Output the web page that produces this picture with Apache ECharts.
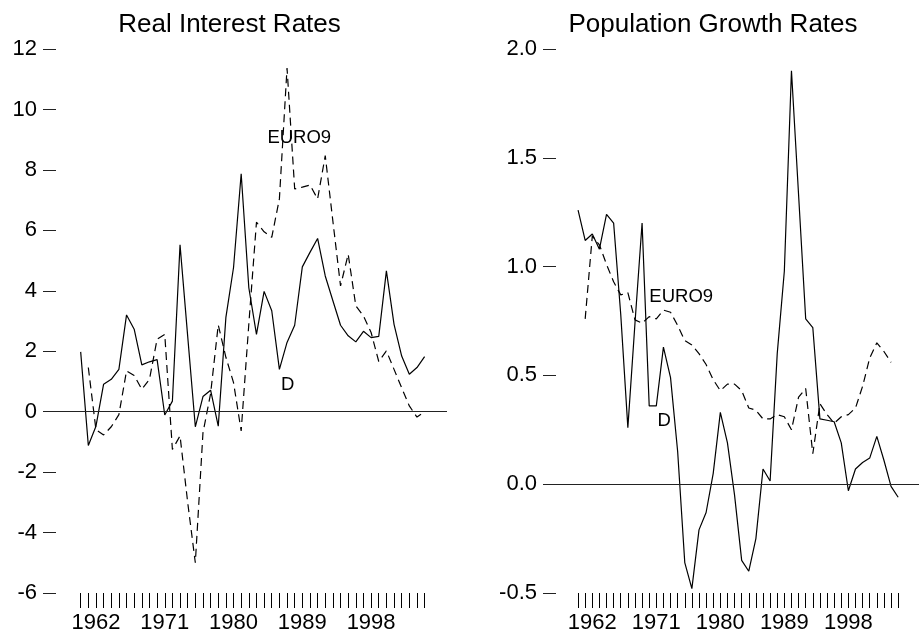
<!DOCTYPE html>
<html>
<head>
<meta charset="utf-8">
<script src="https://cdn.jsdelivr.net/npm/echarts@6/dist/echarts.min.js"></script>
<style>
  html, body { margin: 0; padding: 0; background: #fff; }
  #chart { width: 919px; height: 636px; }
</style>
</head>
<body>
<div id="chart"></div>
<script>
  var years = [1960, 1961, 1962, 1963, 1964, 1965, 1966, 1967, 1968, 1969,
    1970, 1971, 1972, 1973, 1974, 1975, 1976, 1977, 1978, 1979,
    1980, 1981, 1982, 1983, 1984, 1985, 1986, 1987, 1988, 1989,
    1990, 1991, 1992, 1993, 1994, 1995, 1996, 1997, 1998, 1999,
    2000, 2001, 2002, 2003, 2004, 2005];
  var yearLabels = [1962, 1971, 1980, 1989, 1998];

  // Real interest rates, 1960-2005 (null = no value)
  var rateD = [1.98, -1.12, -0.48, 0.91, 1.07, 1.40, 3.20, 2.73, 1.55, 1.65,
    1.72, -0.11, 0.35, 5.52, 2.50, -0.50, 0.50, 0.71, -0.48, 3.12,
    4.77, 7.87, 4.10, 2.56, 3.98, 3.34, 1.40, 2.29, 2.86, 4.79,
    5.27, 5.73, 4.49, 3.67, 2.86, 2.51, 2.31, 2.66, 2.45, 2.49,
    4.66, 2.89, 1.84, 1.24, 1.46, 1.82];
  var rateEuro = [null, 1.46, -0.60, -0.77, -0.50, -0.10, 1.35, 1.20, 0.74, 1.07,
    2.40, 2.56, -1.25, -0.80, -3.00, -5.00, -0.70, 0.60, 2.87, 1.80,
    0.96, -0.64, 2.90, 6.27, 5.95, 5.77, 7.04, 11.37, 7.37, 7.43,
    7.50, 7.04, 8.47, 6.30, 4.16, 5.21, 3.50, 3.17, 2.62, 1.66,
    2.01, 1.40, 0.79, 0.19, -0.18, 0.00];

  // Population growth rates, 1960-2005
  var popD = [1.26, 1.12, 1.15, 1.08, 1.24, 1.20, 0.78, 0.26, 0.74, 1.20,
    0.36, 0.36, 0.63, 0.49, 0.15, -0.36, -0.48, -0.21, -0.13, 0.05,
    0.33, 0.19, -0.05, -0.35, -0.40, -0.25, 0.07, 0.015, 0.60, 0.98,
    1.90, 1.33, 0.76, 0.72, 0.30, 0.294, 0.287, 0.19, -0.03, 0.07,
    0.10, 0.12, 0.22, 0.11, -0.01, -0.06];
  var popEuro = [null, 0.76, 1.14, 1.10, 1.01, 0.93, 0.87, 0.88, 0.755, 0.74,
    0.77, 0.76, 0.80, 0.79, 0.73, 0.66, 0.64, 0.60, 0.55, 0.48,
    0.43, 0.46, 0.46, 0.43, 0.35, 0.34, 0.30, 0.30, 0.32, 0.31,
    0.25, 0.40, 0.44, 0.14, 0.37, 0.32, 0.28, 0.31, 0.32, 0.35,
    0.45, 0.58, 0.65, 0.61, 0.56, null];

  // where the series names are written, in data units [year, value]
  var tagEuroRate = [1988.6, 9.07];
  var tagDRate = [1987.1, 0.89];
  var tagEuroPop = [1974.5, 0.863];
  var tagDPop = [1972.1, 0.292];

  var FONT = "'Liberation Sans', Arial, sans-serif";

  function pairs(vals) {
    var out = [];
    for (var i = 0; i < years.length; i++) {
      if (vals[i] !== null && vals[i] !== undefined) out.push([years[i], vals[i]]);
    }
    return out;
  }

  function xAxisFor(idx) {
    return {
      type: "value",
      gridIndex: idx,
      min: 1955.07,
      max: 2007.93,
      axisLine: { show: false, onZero: false },
      splitLine: { show: false },
      axisTick: {
        show: true,
        length: 15,
        customValues: years,
        lineStyle: { color: "#000", width: 1 }
      },
      axisLabel: {
        customValues: yearLabels,
        fontSize: 22,
        color: "#000",
        margin: 19,
        fontFamily: FONT,
        formatter: function (v) { return String(v); }
      }
    };
  }

  function yAxisFor(idx, min, max, interval, fmt) {
    return {
      type: "value",
      gridIndex: idx,
      min: min,
      max: max,
      interval: interval,
      axisLine: { show: false },
      splitLine: { show: false },
      axisTick: {
        show: true,
        inside: true,
        length: 13,
        lineStyle: { color: "#222", width: 1 }
      },
      axisLabel: {
        fontSize: 22,
        color: "#000",
        margin: 6,
        fontFamily: FONT,
        formatter: fmt
      }
    };
  }

  function lineSeries(idx, vals, dashed, zeroLine) {
    var s = {
      type: "line",
      xAxisIndex: idx,
      yAxisIndex: idx,
      data: pairs(vals),
      symbol: "none",
      showSymbol: false,
      lineStyle: { color: "#000", width: 1.2, type: dashed ? [8, 5] : "solid" },
      z: 3
    };
    if (zeroLine) {
      s.markLine = {
        silent: true,
        symbol: "none",
        label: { show: false },
        lineStyle: { color: "#222", width: 1, type: "solid" },
        data: [{ yAxis: 0 }]
      };
    }
    return s;
  }

  function tagSeries(idx, pos, text) {
    return {
      type: "scatter",
      xAxisIndex: idx,
      yAxisIndex: idx,
      data: [pos],
      symbol: "circle",
      symbolSize: 0,
      itemStyle: { color: "#000", opacity: 1 },
      label: {
        show: true,
        position: "inside",
        formatter: text,
        fontSize: 18.5,
        color: "#000",
        opacity: 1,
        textBorderWidth: 0,
        fontFamily: FONT
      },
      z: 4
    };
  }

  var chart = echarts.init(document.getElementById("chart"), null, { renderer: "canvas" });
  chart.setOption({
    animation: false,
    backgroundColor: "#fff",
    title: [
      {
        text: "Real Interest Rates",
        left: 229.5,
        top: 12,
        padding: 0,
        textAlign: "center",
        textStyle: { fontSize: 26, fontWeight: "normal", color: "#000", fontFamily: FONT }
      },
      {
        text: "Population Growth Rates",
        left: 713,
        top: 12,
        padding: 0,
        textAlign: "center",
        textStyle: { fontSize: 26, fontWeight: "normal", color: "#000", fontFamily: FONT }
      }
    ],
    grid: [
      { left: 43, top: 49, width: 404, height: 544 },
      { left: 543, top: 49, width: 387.6, height: 544 }
    ],
    xAxis: [xAxisFor(0), xAxisFor(1)],
    yAxis: [
      yAxisFor(0, -6, 12, 2),
      yAxisFor(1, -0.5, 2.0, 0.5, function (v) { return v.toFixed(1); })
    ],
    series: [
      lineSeries(0, rateD, false, true),
      lineSeries(0, rateEuro, true, false),
      lineSeries(1, popD, false, true),
      lineSeries(1, popEuro, true, false),
      tagSeries(0, tagEuroRate, "EURO9"),
      tagSeries(0, tagDRate, "D"),
      tagSeries(1, tagEuroPop, "EURO9"),
      tagSeries(1, tagDPop, "D")
    ]
  });
</script>
</body>
</html>
